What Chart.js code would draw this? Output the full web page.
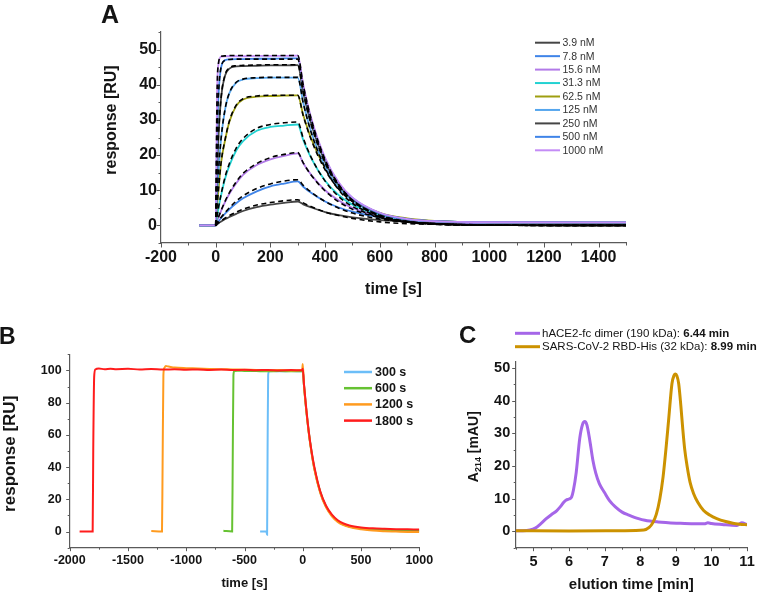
<!DOCTYPE html>
<html><head><meta charset="utf-8">
<script src="https://cdn.jsdelivr.net/npm/chart.js@4/dist/chart.umd.min.js"></script>
<style>
html,body{margin:0;padding:0;background:#fff;}
#wrap{position:relative;width:760px;height:593px;overflow:hidden;background:#fff;}
canvas{position:absolute;}
</style></head><body>
<div id="wrap">
<canvas id="cA" width="760" height="310" style="left:0;top:0;width:760px;height:310px"></canvas>
<canvas id="cB" width="452" height="283" style="left:0;top:310px;width:452px;height:283px"></canvas>
<canvas id="cC" width="308" height="283" style="left:452px;top:310px;width:308px;height:283px"></canvas>
</div>
<script>
const FAMILY = '"Liberation Sans", Arial, Helvetica, sans-serif';
const AX = '#5a5a5a';
const TXT = '#141414';

// ---------------- Panel A : SPR kinetics ----------------
const concLabels = ['3.9 nM','7.8 nM','15.6 nM','31.3 nM','62.5 nM','125 nM','250 nM','500 nM','1000 nM'];
const concColors = ['#454545','#3f84e8','#b27ae8','#22d2d2','#9e9e10','#55a6ee','#454545','#3f84e8','#c48cf6'];
const timeA = [-60,0,5,10,20,35,50,75,100,150,200,250,300,320,350,400,450,500,600,700,800,1000,1500];
const r3_9  = [0,0,0.3,0.6,1.1,1.8,2.4,3.3,4.1,5.2,5.9,6.4,6.8,6.0,5.1,3.8,2.9,2.3,1.5,1.1,0.8,0.65,0.6];
const r7_8  = [0,0,0.5,1.1,2.1,3.4,4.6,6.3,7.7,9.7,11.1,11.9,12.5,11.0,9.2,6.8,5.1,3.9,2.3,1.5,1.1,0.7,0.6];
const r15_6 = [0,0,1.2,2.2,4.2,6.8,9.0,12.0,14.4,17.2,18.8,19.8,20.5,17.7,14.3,10.0,7.1,5.0,2.7,1.6,1.1,0.7,0.6];
const r31_3 = [0,0,2.5,4.8,8.7,13.5,17.0,21.3,24.0,26.9,28.0,28.4,28.7,24.3,19.0,12.7,8.6,5.9,3.0,1.7,1.2,0.9,0.8];
const r62_5 = [0,0,5.5,10.0,18.0,24.5,29.5,34.0,35.8,36.6,36.8,36.9,37.0,31.4,24.5,16.3,10.9,7.4,3.6,2.0,1.3,0.9,0.8];
const r125  = [0,0,8.4,15.2,24.9,33.3,37.6,40.6,41.5,41.9,42.0,42.0,42.0,34.9,26.4,16.7,10.7,7.0,3.2,1.7,1.2,0.9,0.8];
const r250  = [0,0,15.0,25.0,36.4,42.8,44.6,45.2,45.3,45.4,45.5,45.5,45.6,37.8,28.7,18.1,11.6,7.5,3.4,1.8,1.2,0.9,0.8];
const r500  = [0,0,25.0,36.8,45.0,47.0,47.2,47.3,47.3,47.4,47.4,47.5,47.5,39.4,29.9,18.9,12.0,7.8,3.5,1.8,1.2,0.9,0.85];
const r1000 = [0,0,37.5,45.8,48.0,48.1,48.1,48.1,48.1,48.2,48.2,48.2,48.3,40.1,30.3,19.2,12.2,7.9,3.6,1.8,1.2,0.9,0.85];
const fitTimeA = [0,5,10,20,35,50,75,100,150,200,250,300,320,350,400,450,500,600,700,800,1000,1500];
const f3_9  = [0,0.35,0.7,1.3,2.1,2.8,3.8,4.6,5.8,6.5,7.0,7.3,6.4,5.3,3.8,2.8,2.0,1.0,0.5,0.3,0.08,0];
const f7_8  = [0,0.6,1.2,2.3,3.7,5.0,6.9,8.4,10.5,11.8,12.6,13.0,11.4,9.4,6.8,4.9,3.5,1.8,1.0,0.5,0.14,0];
const f15_6 = [0,1.2,2.3,4.3,7.0,9.3,12.4,14.8,17.6,19.3,20.2,20.7,17.8,14.2,9.8,6.7,4.6,2.2,1.0,0.5,0.1,0];
const f31_3 = [0,2.6,5.0,9.0,14.0,17.6,22.0,24.7,27.6,28.7,29.2,29.4,24.8,19.2,12.6,8.2,5.4,2.3,1.0,0.4,0.08,0];
const f62_5 = [0,5.5,10.1,18.1,24.7,29.7,34.2,36.0,36.8,37.0,37.0,37.0,31.2,24.2,15.8,10.3,6.8,2.9,1.2,0.5,0.1,0];
const f125  = [0,8.4,15.2,25.0,33.4,37.7,40.7,41.6,42.0,42.1,42.1,42.1,34.8,26.2,16.3,10.1,6.3,2.4,0.9,0.4,0.05,0];
const f250  = [0,15.0,25.2,36.6,43.0,44.8,45.4,45.5,45.6,45.7,45.7,45.7,37.8,28.4,17.7,11.0,6.9,2.7,1.0,0.4,0.06,0];
const f500  = [0,25.0,37.0,45.1,47.0,47.2,47.3,47.3,47.3,47.3,47.3,47.3,39.1,29.4,18.3,11.4,7.1,2.7,1.0,0.4,0.06,0];
const f1000 = [0,37.6,46.0,48.1,48.2,48.3,48.3,48.3,48.3,48.3,48.3,48.3,39.9,30.0,18.7,11.6,7.2,2.8,1.1,0.4,0.06,0];
const xTicksA = [-200,0,200,400,600,800,1000,1200,1400];
const yTicksA = [0,10,20,30,40,50];

// ---------------- Panel B : contact-time series ----------------
const legendB = ['300 s','600 s','1200 s','1800 s'];
const colorsB = ['#6cbef8','#66c232','#ff9b1f','#ff1c1c'];
const t300  = [-366,-312,-306,-302,-297,-290,-250,-200,-100,-5,0,10,25,50,75,100,150,200,250,300,350,400,500,600,700,800,900,1000];
const r300  = [0,0,-2,50,97,99.4,99.6,99.5,99.6,99.5,100,91,79,62.5,49.5,39,24.5,15.5,10,6.5,4.4,3.2,2.0,1.5,1.1,0.9,0.8,0.8];
const t600  = [-681,-606,-601,-595,-588,-560,-500,-400,-300,-200,-100,-5,0,10,25,50,75,100,150,200,250,300,350,400,500,600,700,800,900,1000];
const r600  = [0.5,0,45,97,99.6,99.8,99.7,99.6,99.5,99.6,99.5,99.6,100,91,79,62.5,49.5,39,24.5,15.5,10,6.5,4.4,3.2,2.0,1.4,1.0,0.8,0.6,0.5];
const t1200 = [-1300,-1208,-1203,-1196,-1188,-1175,-1150,-1100,-1000,-900,-800,-700,-600,-500,-400,-300,-200,-100,-5,0,10,25,50,75,100,150,200,250,300,350,400,500,600,700,800,900,1000];
const r1200 = [0.3,0,40,97,101.5,102.7,102.4,101.8,101.4,101.2,100.9,100.7,100.6,100.4,100.3,100.1,100.2,100,100.3,104,91,79,62,49,38.5,24,15,9.5,6,4,2.8,1.5,0.6,0.2,0,-0.2,-0.3];
const t1800 = [-1915,-1803,-1798,-1790,-1780,-1750,-1700,-1650,-1600,-1500,-1400,-1300,-1200,-1100,-1000,-900,-800,-700,-600,-500,-400,-300,-200,-100,-5,0,10,25,50,75,100,150,200,250,300,350,400,500,600,700,800,900,1000];
const r1800 = [0.1,0,50,96,100.6,101.2,100.7,101.1,100.8,101,100.6,100.9,100.5,100.7,100.4,100.6,100.3,100.5,100.2,100.4,100.1,100.3,100,100.2,100.1,101,92,80,63,50,40,25,16,10.5,7,5,3.8,2.6,2.0,1.7,1.5,1.4,1.3];
const xTicksB = [-2000,-1500,-1000,-500,0,500,1000];
const yTicksB = [0,20,40,60,80,100];

// ---------------- Panel C : SEC elution ----------------
const legendC = ['hACE2-fc dimer (190 kDa): ','SARS-CoV-2 RBD-His (32 kDa): '];
const legendCBold = ['6.44 min','8.99 min'];
const colorsC = ['#a566e8','#cc9200'];
const tHace = [4.5,4.7,4.9,5.05,5.2,5.35,5.5,5.65,5.75,5.85,5.92,6.0,6.07,6.12,6.2,6.3,6.38,6.44,6.5,6.58,6.67,6.75,6.85,7.0,7.13,7.3,7.49,7.68,7.95,8.13,8.5,9.05,9.5,9.8,9.9,10.0,10.3,10.7,10.85,10.95,11.0];
const aHace = [0.2,0.2,0.4,1.0,2.3,3.8,5.1,6.3,7.5,8.9,9.6,9.9,10.5,12.5,18,28.5,32.8,33.6,32.6,28,21.7,17.8,14.6,11.8,9.5,7.5,5.9,5.0,3.9,3.4,2.9,2.5,2.3,2.3,2.6,2.4,2.1,1.8,2.6,2.3,2.0];
const tRbd  = [4.5,6.0,7.5,8.1,8.25,8.35,8.45,8.55,8.64,8.72,8.8,8.89,8.95,8.99,9.03,9.08,9.14,9.19,9.25,9.32,9.4,9.5,9.62,9.78,9.95,10.15,10.4,10.6,10.8,11.0];
const aRbd  = [0.2,0.1,0.2,0.4,1.2,2.6,5.2,10.0,16.6,25.0,34.5,45.2,47.8,48.2,47.6,45.2,38.5,31.9,25.0,19.7,15.0,11.5,8.8,6.4,5.0,3.9,3.0,2.5,2.2,2.0];
const xTicksC = [5,6,7,8,9,10,11];
const yTicksC = [0,10,20,30,40,50];

// ---------------- helpers ----------------
const toXY = (xs, ys) => xs.map((x, i) => ({x: x, y: ys[i]}));
function steps(min, max, step) {
  const out = []; const n = Math.round((max - min) / step);
  for (let i = 0; i <= n; i++) out.push(+(min + i * step).toFixed(6));
  return out;
}
function rotText(ctx, text, cx, cy, font) {
  ctx.save(); ctx.translate(cx, cy); ctx.rotate(-Math.PI / 2);
  ctx.font = font; ctx.textAlign = 'center'; ctx.textBaseline = 'middle'; ctx.fillStyle = TXT;
  ctx.fillText(text, 0, 0); ctx.restore();
}
function decor(cfg) {
  return {
    id: 'decor' + cfg.name,
    afterDraw(chart) {
      const ctx = chart.ctx, ca = chart.chartArea, xs = chart.scales.x, ys = chart.scales.y;
      ctx.save();
      ctx.strokeStyle = AX; ctx.lineWidth = 1;
      const tx = (v, len) => { const p = Math.round(xs.getPixelForValue(v)) + 0.5; ctx.beginPath(); ctx.moveTo(p, ca.bottom); ctx.lineTo(p, ca.bottom + len); ctx.stroke(); };
      const ty = (v, len) => { const p = Math.round(ys.getPixelForValue(v)) + 0.5; ctx.beginPath(); ctx.moveTo(ca.left, p); ctx.lineTo(ca.left - len, p); ctx.stroke(); };
      steps(xs.min, xs.max, cfg.xMinor).forEach(v => tx(v, cfg.minorLen));
      cfg.xMajor.forEach(v => tx(v, cfg.majorLen));
      steps(ys.min, ys.max - ((ys.max - ys.min) % cfg.yMinor), cfg.yMinor).forEach(v => ty(v, cfg.minorLen));
      cfg.yMajor.forEach(v => ty(v, cfg.majorLen));
      cfg.draw(ctx, chart);
      ctx.restore();
    }
  };
}
function scaleX(min, max, ticksArr, height, fontSize, pad, title, titleSize, titlePadBottom, titleLH) {
  return {
    type: 'linear', min: min, max: max,
    afterBuildTicks: s => { s.ticks = ticksArr.map(v => ({value: v})); },
    afterFit: s => { s.height = height; },
    grid: {display: false, drawTicks: false},
    border: {display: true, color: AX, width: 1.2},
    ticks: {autoSkip: false, maxRotation: 0, padding: pad, color: TXT,
      font: {family: FAMILY, size: fontSize, weight: 'bold'}, callback: v => String(v)},
    title: {display: true, text: title, color: TXT,
      font: {family: FAMILY, size: titleSize, weight: 'bold', lineHeight: titleLH},
      padding: {top: 0, bottom: titlePadBottom}}
  };
}
function scaleY(min, max, ticksArr, width, fontSize, pad) {
  return {
    type: 'linear', min: min, max: max,
    afterBuildTicks: s => { s.ticks = ticksArr.map(v => ({value: v})); },
    afterFit: s => { s.width = width; },
    grid: {display: false, drawTicks: false},
    border: {display: true, color: AX, width: 1.2},
    ticks: {autoSkip: false, padding: pad, color: TXT,
      font: {family: FAMILY, size: fontSize, weight: 'bold'}, callback: v => String(v)}
  };
}
const baseOpts = {
  responsive: false, animation: false, devicePixelRatio: 1,
  plugins: {legend: {display: false}, tooltip: {enabled: false}},
  elements: {point: {radius: 0}, line: {cubicInterpolationMode: 'monotone', fill: false}}
};

// ---------------- Chart A ----------------
const respA = [r3_9, r7_8, r15_6, r31_3, r62_5, r125, r250, r500, r1000];
const fitA  = [f3_9, f7_8, f15_6, f31_3, f62_5, f125, f250, f500, f1000];
const dsA = [];
fitA.forEach((f, i) => dsA.push({label: concLabels[i] + ' fit', data: toXY(fitTimeA, f), borderColor: '#000', borderWidth: 1.6, borderDash: [5, 3.5], order: 0}));
respA.forEach((r, i) => dsA.push({label: concLabels[i], data: toXY(timeA, r), borderColor: concColors[i], borderWidth: 1.8, order: 10 - i}));

new Chart(document.getElementById('cA'), {
  type: 'line',
  data: {datasets: dsA},
  options: Object.assign({}, baseOpts, {
    layout: {padding: {left: 0, right: 134, top: 32, bottom: 0}},
    scales: {
      x: scaleX(-200, 1500, xTicksA, 67, 16, 5, 'time [s]', 16, 10.4, 1.2),
      y: scaleY(-5, 55, yTicksA, 161, 16, 4)
    }
  }),
  plugins: [decor({name: 'A', xMinor: 100, xMajor: xTicksA, yMinor: 5, yMajor: yTicksA, majorLen: 4.5, minorLen: 2.5,
    draw(ctx) {
      ctx.fillStyle = TXT; ctx.textAlign = 'left'; ctx.textBaseline = 'alphabetic';
      ctx.font = 'bold 25px ' + FAMILY; ctx.fillText('A', 101, 23);
      rotText(ctx, 'response [RU]', 111.5, 120, 'bold 16px ' + FAMILY);
      ctx.font = '10.5px ' + FAMILY; ctx.textBaseline = 'middle';
      concLabels.forEach((lab, i) => {
        const y = 42.7 + i * 13.45;
        ctx.strokeStyle = concColors[i]; ctx.lineWidth = 2; ctx.setLineDash([]);
        ctx.beginPath(); ctx.moveTo(535, y); ctx.lineTo(560, y); ctx.stroke();
        ctx.fillStyle = '#333'; ctx.fillText(lab, 562.5, y + 0.5);
      });
    }})]
});

// ---------------- Chart B ----------------
const seriesB = [[t300, r300], [t600, r600], [t1200, r1200], [t1800, r1800]];
const dsB = seriesB.map((s, i) => ({label: legendB[i], data: toXY(s[0], s[1]), borderColor: colorsB[i], borderWidth: 2, order: 3 - i}));
new Chart(document.getElementById('cB'), {
  type: 'line',
  data: {datasets: dsB},
  options: Object.assign({}, baseOpts, {
    layout: {padding: {left: 0, right: 32.7, top: 44.3, bottom: 0}},
    scales: {
      x: scaleX(-2000, 1000, xTicksB, 45.3, 12.5, 5.3, 'time [s]', 13, 2.2, 1.2),
      y: scaleY(-10, 110, yTicksB, 69.7, 12.5, 8)
    }
  }),
  plugins: [decor({name: 'B', xMinor: 250, xMajor: xTicksB, yMinor: 10, yMajor: yTicksB, majorLen: 3.5, minorLen: 2,
    draw(ctx) {
      ctx.fillStyle = TXT; ctx.textAlign = 'left'; ctx.textBaseline = 'alphabetic';
      ctx.font = 'bold 23px ' + FAMILY; ctx.fillText('B', -1, 33.5);
      rotText(ctx, 'response [RU]', 10, 143.8, 'bold 17px ' + FAMILY);
      ctx.font = 'bold 12.5px ' + FAMILY; ctx.textBaseline = 'middle';
      legendB.forEach((lab, i) => {
        const y = 62 + i * 16.2;
        ctx.strokeStyle = colorsB[i]; ctx.lineWidth = 2.5;
        ctx.beginPath(); ctx.moveTo(344, y); ctx.lineTo(372, y); ctx.stroke();
        ctx.fillStyle = TXT; ctx.fillText(lab, 375, y + 0.5);
      });
    }})]
});

// ---------------- Chart C ----------------
const dsC = [
  {label: 'hACE2-fc dimer (190 kDa)', data: toXY(tHace, aHace), borderColor: colorsC[0], borderWidth: 3, order: 1},
  {label: 'SARS-CoV-2 RBD-His (32 kDa)', data: toXY(tRbd, aRbd), borderColor: colorsC[1], borderWidth: 3, order: 0}
];
new Chart(document.getElementById('cC'), {
  type: 'line',
  data: {datasets: dsC},
  options: Object.assign({}, baseOpts, {
    layout: {padding: {left: 0, right: 7.3, top: 51.5, bottom: 0}},
    scales: {
      x: scaleX(4.5, 11, xTicksC, 45.3, 14.5, 5.3, 'elution time [min]', 15, 0.5, 1),
      y: scaleY(-5, 52, yTicksC, 63.7, 14.5, 5.5)
    }
  }),
  plugins: [decor({name: 'C', xMinor: 0.5, xMajor: xTicksC, yMinor: 5, yMajor: yTicksC, majorLen: 3.5, minorLen: 2,
    draw(ctx) {
      ctx.fillStyle = TXT; ctx.textAlign = 'left'; ctx.textBaseline = 'alphabetic';
      ctx.font = 'bold 24px ' + FAMILY; ctx.fillText('C', 7, 32.5);
      ctx.save(); ctx.translate(22.5, 136.7); ctx.rotate(-Math.PI / 2);
      ctx.textBaseline = 'middle'; ctx.textAlign = 'left'; ctx.fillStyle = TXT;
      const big = 'bold 14px ' + FAMILY, small = 'bold 9px ' + FAMILY;
      ctx.font = big; const w1 = ctx.measureText('A').width; const w3 = ctx.measureText(' [mAU]').width;
      ctx.font = small; const w2 = ctx.measureText('214').width;
      let x0 = -(w1 + w2 + w3) / 2;
      ctx.font = big; ctx.fillText('A', x0, 0);
      ctx.font = small; ctx.fillText('214', x0 + w1, 4);
      ctx.font = big; ctx.fillText(' [mAU]', x0 + w1 + w2, 0);
      ctx.restore();
      ctx.textBaseline = 'middle'; ctx.textAlign = 'left';
      legendC.forEach((lab, i) => {
        const y = 23.3 + i * 13.4;
        ctx.strokeStyle = colorsC[i]; ctx.lineWidth = 3;
        ctx.beginPath(); ctx.moveTo(63, y); ctx.lineTo(88, y); ctx.stroke();
        ctx.fillStyle = TXT; ctx.font = '11.5px ' + FAMILY; ctx.fillText(lab, 90, y + 0.5);
        const w = ctx.measureText(lab).width;
        ctx.font = 'bold 11.5px ' + FAMILY; ctx.fillText(legendCBold[i], 90 + w, y + 0.5);
      });
    }})]
});
</script>
</body></html>
